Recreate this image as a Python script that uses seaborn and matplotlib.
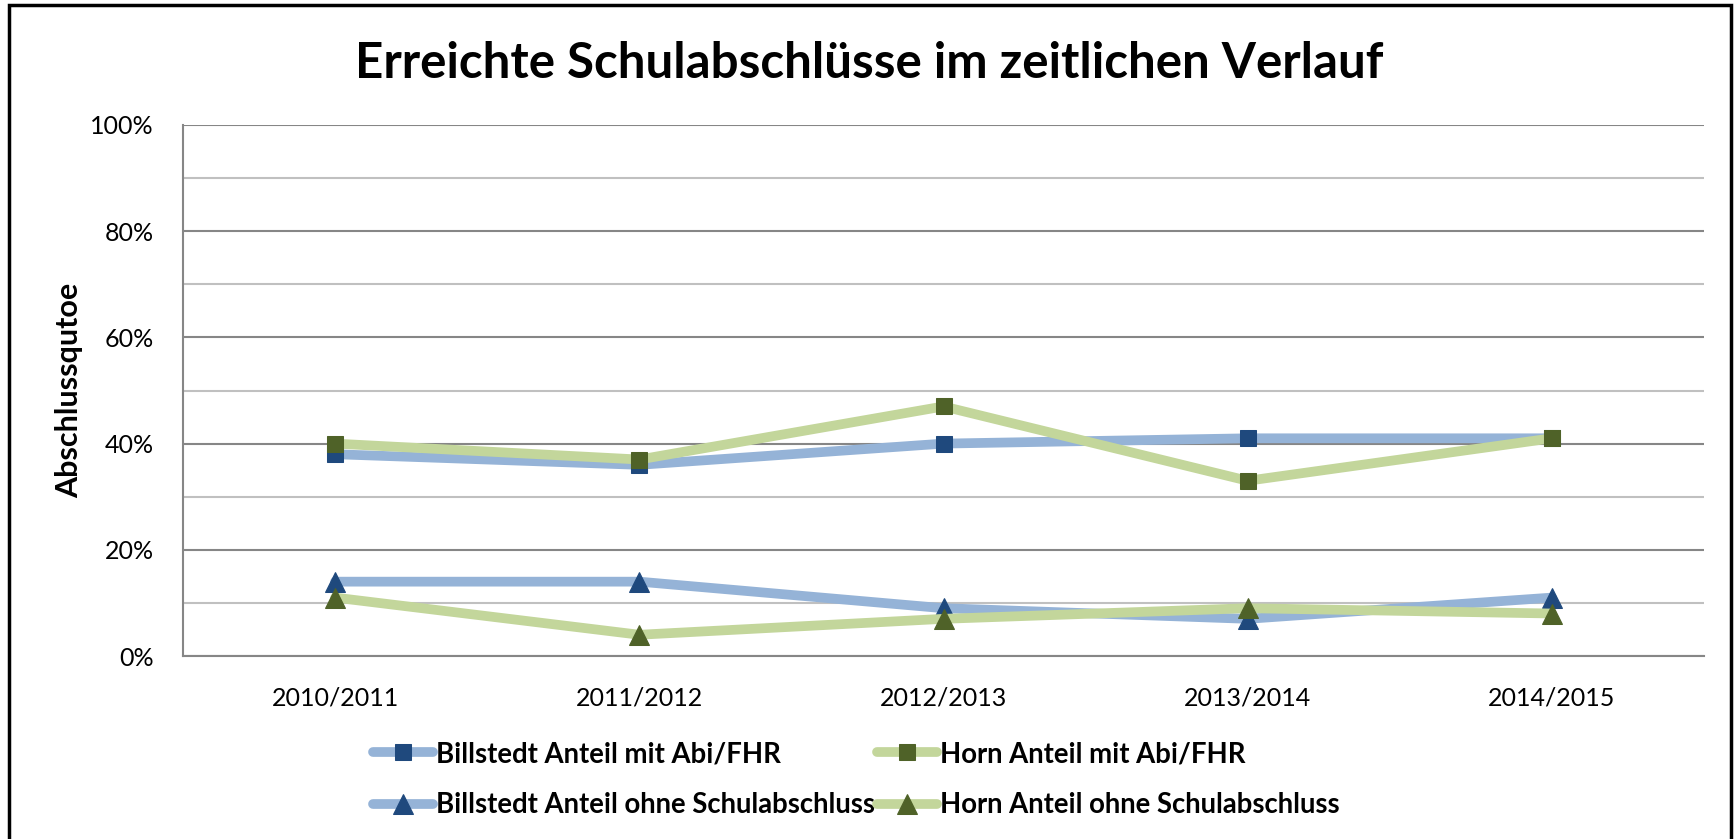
import pandas as pd
import matplotlib.pyplot as plt
import matplotlib.patches as patches
import seaborn as sns

years = ['2010/2011', '2011/2012', '2012/2013', '2013/2014', '2014/2015']
billstedt_abi = [38, 36, 40, 41, 41]
horn_abi = [40, 37, 47, 33, 41]
billstedt_ohne = [14, 14, 9, 7, 11]
horn_ohne = [11, 4, 7, 9, 8]

series = ['Billstedt Anteil mit Abi/FHR', 'Horn Anteil mit Abi/FHR',
          'Billstedt Anteil ohne Schulabschluss', 'Horn Anteil ohne Schulabschluss']
values = [billstedt_abi, horn_abi, billstedt_ohne, horn_ohne]

df = pd.concat([pd.DataFrame({'Jahr': years, 'Quote': v, 'Reihe': s})
                for s, v in zip(series, values)], ignore_index=True)

sns.set_style('white')
plt.rcParams['font.family'] = ['Lato', 'DejaVu Sans']
plt.rcParams['text.color'] = 'black'
plt.rcParams['xtick.color'] = 'black'
plt.rcParams['ytick.color'] = 'black'
plt.rcParams['axes.labelcolor'] = 'black'

line_cols = ['#95B3D7', '#C3D69B', '#95B3D7', '#C3D69B']
mark_cols = ['#1F497D', '#4F6228', '#1F497D', '#4F6228']
markers = ['s', 's', '^', '^']
msizes = [11, 11, 14, 14]

fig = plt.figure(figsize=(17.35, 8.39), dpi=100)
ax = fig.add_axes([183 / 1735, 1 - 656 / 839, (1704 - 183) / 1735, (656 - 125) / 839])

for s, lc, mc, m, ms in zip(series, line_cols, mark_cols, markers, msizes):
    sub = df[df['Reihe'] == s]
    sns.lineplot(data=sub, x='Jahr', y='Quote', ax=ax, color=lc, linewidth=7,
                 marker=m, markersize=ms, markerfacecolor=mc, markeredgecolor=mc,
                 label=s, sort=False)

ax.set_xlim(-0.5, 4.5)
ax.set_ylim(0, 100)
ax.set_yticks(range(0, 101, 20))
ax.set_yticklabels([f'{v}%' for v in range(0, 101, 20)], fontsize=18)
ax.set_yticks(range(10, 100, 20), minor=True)
ax.set_xticks(range(5))
ax.set_xticklabels(years, fontsize=18)
ax.set_xticks([i - 0.5 for i in range(6)], minor=True)
ax.tick_params(axis='x', which='major', length=0, pad=22)
ax.tick_params(axis='x', which='minor', length=9, color='#868686', width=1.5, direction='out')
ax.tick_params(axis='y', which='major', length=9, color='#868686', width=1.5, pad=12)
ax.tick_params(axis='y', which='minor', length=0)
ax.grid(axis='y', which='major', color='#868686', linewidth=1.5)
ax.grid(axis='y', which='minor', color='#C0C0C0', linewidth=1.5)
ax.set_axisbelow(True)
for side in ['top', 'right']:
    ax.spines[side].set_visible(False)
for side in ['left', 'bottom']:
    ax.spines[side].set_color('#868686')
    ax.spines[side].set_linewidth(1.5)
ax.set_xlabel('')
ax.set_ylabel('Abschlussqutoe', fontsize=22, fontweight='bold')
ax.yaxis.set_label_coords((83 - 183) / 1521, 0.5)

# legend rows: Abi/FHR on top, ohne Schulabschluss below
handles, labels = ax.get_legend_handles_labels()
order = [0, 2, 1, 3]
leg = ax.legend([handles[i] for i in order], [labels[i] for i in order],
                loc='upper left', bbox_to_anchor=(373 / 1735, 1 - 741 / 839),
                bbox_transform=fig.transFigure, ncol=2, frameon=False,
                prop={'size': 19.8, 'weight': 'bold'}, handlelength=2.18, handletextpad=0.1,
                columnspacing=0.1, labelspacing=0.92, borderaxespad=0, borderpad=0)

fig.text(869 / 1735, 1 - 64 / 839, 'Erreichte Schulabschlüsse im zeitlichen Verlauf',
         ha='center', va='center', fontsize=35.5, fontweight='bold')

fig.patches.append(patches.Rectangle((9 / 1735, -0.05), (1731 - 9) / 1735, 1.05 - 5 / 839,
                                     transform=fig.transFigure, fill=False,
                                     edgecolor='black', linewidth=2.5))

fig.savefig('out.png', dpi=100)
